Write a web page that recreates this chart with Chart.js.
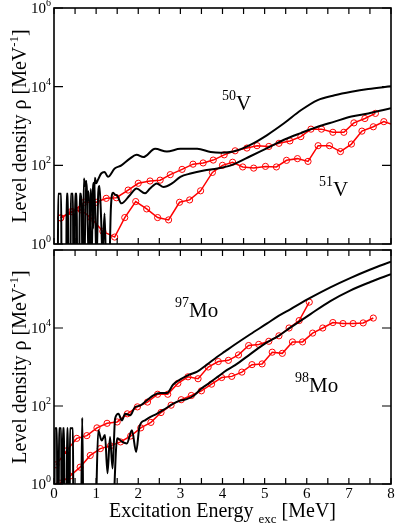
<!DOCTYPE html>
<html>
<head>
<meta charset="utf-8">
<script src="https://cdn.jsdelivr.net/npm/chart.js@4.4.0/dist/chart.umd.min.js"></script>
<style>
html, body { margin: 0; padding: 0; background: #fff; }
#wrap { position: relative; width: 395px; height: 527px; }
canvas { position: absolute; left: 0; }
#top { top: 0; }
#bottom { top: 240px; }
</style>
</head>
<body>
<div id="wrap">
  <canvas id="top" width="395" height="250"></canvas>
  <canvas id="bottom" width="395" height="287"></canvas>
</div>
<script>
// ---------- top panel: 50V / 51V ----------
const v50CalcE = [0.09,0.10,0.17,0.18,0.29,0.30,0.33,0.34,0.39,0.40,0.45,0.46,0.49,0.50,0.54,0.55,0.60,0.61,0.64,0.66,0.68,
  0.71,0.74,0.77,0.80,0.83,0.87,0.90,0.93,0.97,1.00,1.04,1.12,1.20,1.28,1.44,1.60,1.80,1.96,2.12,
  2.40,2.68,3.00,3.40,3.72,3.96,4.26,4.66,5.06,5.46,5.86,6.26,6.66,7.06,7.46,8.00];
const v50CalcRho = [0.1,19,19,0.1,0.1,19,19,0.1,0.1,19,19,0.1,0.1,19,19,0.1,0.1,19,19,6,0.1,
  46,30,40,3,0.3,25,8,2.5,48,35,42,62,68,51,83,100,148,186,162,
  263,224,263,263,219,209,224,331,589,1170,2510,4570,6030,7410,8710,10200];

const v51CalcE = [0.72,0.76,0.79,0.82,0.86,0.89,0.92,0.95,0.98,1.01,1.05,1.08,1.12,1.15,1.20,1.24,1.30,1.35,1.40,1.45,1.50,
  1.60,1.80,1.96,2.16,2.28,2.44,2.60,2.80,3.00,3.24,3.56,3.88,4.20,4.34,4.66,5.06,5.46,5.86,6.26,6.66,7.06,7.46,8.00];
const v51CalcRho = [0.1,40,12,22,2,0.2,18,36,5,0.3,20,30,4,0.5,6,0.2,0.1,8,20,18,17,
  10.8,17.4,25.7,19.5,25.7,34.7,28.2,34.7,51,62,74,83,100,115,170,275,447,661,955,1290,1740,2090,2820];

const v50ExpE = [0.16,0.44,0.72,1.00,1.24,1.48,1.76,2.00,2.28,2.52,2.76,3.04,3.30,3.54,3.78,4.04,4.30,4.58,4.82,5.10,
  5.34,5.60,5.86,6.10,6.35,6.62,6.88,7.12,7.38,7.63];
const v50ExpRho = [4.6,6.6,11.5,11.5,14.5,15,23.5,35,40,42,58,79,107,115,136,185,234,275,316,302,
  363,417,537,832,832,692,692,1200,1550,2090];

const v51ExpE = [0.16,0.40,0.64,0.88,1.16,1.44,1.68,1.94,2.20,2.46,2.72,2.98,3.22,3.48,3.76,4.00,4.24,4.48,4.74,5.02,
  5.28,5.52,5.78,6.03,6.27,6.54,6.80,7.06,7.31,7.58,7.83,8.00];
const v51ExpRho = [4.6,6.6,7.4,4.6,2.1,1.5,4.7,12,7.8,4.7,4.1,11.5,13.2,22.5,66,100,120,91,85,94,
  91,134,148,126,316,316,224,347,741,955,1290,1120];

// ---------- bottom panel: 97Mo / 98Mo ----------
const mo97CalcE = [0.01,0.02,0.07,0.08,0.11,0.12,0.17,0.18,0.20,0.21,0.24,0.25,0.30,0.31,0.33,0.34,0.37,0.38,0.45,0.46,
  0.64,0.67,0.70,0.98,1.05,1.13,1.21,1.27,1.33,1.39,1.45,1.53,1.61,1.69,1.81,1.92,2.04,
  2.20,2.36,2.52,2.68,2.83,3.00,3.20,3.40,3.63,3.86,4.06,4.26,4.66,5.05,5.33,5.61,6.08,6.56,7.03,7.51,8.00];
const mo97CalcRho = [0.1,27,27,0.1,0.1,27,27,0.1,0.1,27,27,0.1,0.1,27,27,0.1,0.1,27,27,0.1,
  0.1,50,0.1,0.1,24,13,18,1.9,16,2.5,47,63,43,63,58,93,102,
  138,186,214,214,355,479,630,760,1150,1780,2510,3550,6900,12900,20400,30200,58900,110000,190000,316000,500000];

const mo98CalcE = [1.40,1.50,1.62,1.73,1.85,1.95,2.03,2.16,2.28,2.44,2.64,2.83,3.00,3.15,3.32,3.50,3.70,3.90,4.10,4.30,
  4.66,5.05,5.33,5.61,6.08,6.56,7.03,7.51,8.00];
const mo98CalcRho = [0.1,15,12,11,24,6.6,30,43,52,63,85,115,138,150,186,282,398,575,832,1120,
  2140,4270,6300,10200,22400,49000,91200,151000,240000];

const mo97ExpE = [0.05,0.30,0.54,0.78,1.02,1.26,1.50,1.74,1.98,2.22,2.46,2.70,2.94,3.18,3.42,3.66,3.90,4.14,4.38,4.62,
  4.86,5.10,5.34,5.58,5.82,6.06];
const mo97ExpRho = [3.1,7.1,14.8,17.4,27.5,36,39,63,95,126,200,200,380,560,500,1000,1380,1480,2040,3550,
  3800,4570,6300,10000,15500,46000];

const mo98ExpE = [0.14,0.38,0.62,0.86,1.10,1.34,1.58,1.82,2.06,2.30,2.54,2.78,3.02,3.26,3.50,3.74,3.98,4.22,4.46,4.70,
  4.94,5.18,5.42,5.66,5.90,6.14,6.38,6.62,6.86,7.10,7.34,7.58];
const mo98ExpRho = [1.05,1.6,2.7,5.4,8.1,9.5,12,17,27.5,38,68,105,145,186,245,363,537,575,740,1150,
  1200,2400,2240,4400,4400,7400,10000,13800,13000,13000,13500,18000];

const xTicks = [0,0.5,1,1.5,2,2.5,3,3.5,4,4.5,5,5.5,6,6.5,7,7.5,8];
const xTickLabels = ['0','1','2','3','4','5','6','7','8'];
const yTickExps = [0,2,4,6];

const serif = '"Liberation Serif", "Times New Roman", serif';

const pts = (xs, ys) => xs.map((x, i) => ({ x: x, y: ys[i] }));

const calc = (xs, ys) => ({
  data: pts(xs, ys),
  borderColor: '#000',
  borderWidth: 2,
  pointRadius: 0,
  cubicInterpolationMode: 'monotone',
  fill: false
});

const expt = (xs, ys) => ({
  data: pts(xs, ys),
  borderColor: '#ff0000',
  borderWidth: 1.5,
  pointRadius: c => (xs[c.dataIndex] >= 8 ? 0 : 3.1),
  pointBorderColor: '#ff0000',
  pointBackgroundColor: 'rgba(255,255,255,0)',
  pointBorderWidth: 1,
  tension: 0,
  fill: false
});

// superscript / subscript helper: parts = [[text, size, dy], ...]
function richText(ctx, parts, x, y) {
  let cx = x;
  parts.forEach(p => {
    ctx.font = p[1] + 'px ' + serif;
    ctx.fillText(p[0], cx, y + p[2]);
    cx += ctx.measureText(p[0]).width;
  });
}
function richWidth(ctx, parts) {
  let w = 0;
  parts.forEach(p => { ctx.font = p[1] + 'px ' + serif; w += ctx.measureText(p[0]).width; });
  return w;
}

const framePlugin = {
  id: 'frame',
  afterDatasetsDraw(chart, args, opts) {
    const ctx = chart.ctx;
    const { left, right, top, bottom } = chart.chartArea;
    const xs = chart.scales.x, ys = chart.scales.y;
    ctx.save();
    ctx.strokeStyle = '#000';
    ctx.fillStyle = '#000';
    ctx.lineWidth = 1.2;
    ctx.beginPath();
    xTicks.forEach(v => {
      const px = xs.getPixelForValue(v);
      ctx.moveTo(px, bottom); ctx.lineTo(px, bottom - 6);
      ctx.moveTo(px, top); ctx.lineTo(px, top + 6);
    });
    yTickExps.forEach(e => {
      const py = ys.getPixelForValue(Math.pow(10, e));
      ctx.moveTo(left, py); ctx.lineTo(left + 9, py);
      ctx.moveTo(right, py); ctx.lineTo(right - 9, py);
    });
    ctx.stroke();
    ctx.lineWidth = 1.6;
    ctx.strokeRect(left, top, right - left, bottom - top);

    // y tick labels
    ctx.textAlign = 'left';
    ctx.textBaseline = 'alphabetic';
    opts.yLabels.forEach(e => {
      const py = ys.getPixelForValue(Math.pow(10, e));
      const parts = [['10', 15, 5], [String(e), 10, -2]];
      richText(ctx, parts, left - 3 - richWidth(ctx, parts), py);
    });

    // x tick labels
    if (opts.xLabels) {
      ctx.font = '15px ' + serif;
      ctx.textAlign = 'center';
      xTickLabels.forEach((t, i) => {
        ctx.fillText(t, xs.getPixelForValue(i), bottom + 14);
      });
      ctx.textAlign = 'left';
      const xt = [['Excitation Energy ', 20, 0], ['exc', 13, 6], [' [MeV]', 20, 0]];
      richText(ctx, xt, (left + right) / 2 - richWidth(ctx, xt) / 2, bottom + 33);
    }

    // y title
    const yt = [['Level density \u03c1 [MeV', 20, 0], ['-1', 13, -8], [']', 20, 0]];
    ctx.save();
    ctx.translate(26, (top + bottom) / 2);
    ctx.rotate(-Math.PI / 2);
    richText(ctx, yt, -richWidth(ctx, yt) / 2, 0);
    ctx.restore();

    // nucleus labels
    opts.notes.forEach(n => {
      richText(ctx, [[n[0], 14, -10], [n[1], 21, 0]], n[2], n[3]);
    });
    ctx.restore();
  }
};

function buildPanel(id, sets, pad, extra) {
  return new Chart(document.getElementById(id), {
    type: 'line',
    data: { datasets: sets },
    options: {
      responsive: false,
      animation: false,
      devicePixelRatio: 1,
      layout: { padding: pad, autoPadding: false },
      plugins: { legend: { display: false }, tooltip: { enabled: false }, frame: extra },
      scales: {
        x: { type: 'linear', min: 0, max: 8, display: false },
        y: { type: 'logarithmic', min: 1, max: 1e6, display: false }
      }
    },
    plugins: [framePlugin]
  });
}

buildPanel('top', [
  calc(v50CalcE, v50CalcRho),
  calc(v51CalcE, v51CalcRho),
  expt(v50ExpE, v50ExpRho),
  expt(v51ExpE, v51ExpRho)
], { left: 54, right: 4, top: 8, bottom: 6 }, {
  yLabels: [0, 2, 4, 6],
  xLabels: false,
  notes: [['50', 'V', 222, 110], ['51', 'V', 319, 196]]
});

buildPanel('bottom', [
  calc(mo97CalcE, mo97CalcRho),
  calc(mo98CalcE, mo98CalcRho),
  expt(mo97ExpE, mo97ExpRho),
  expt(mo98ExpE, mo98ExpRho)
], { left: 54, right: 4, top: 10, bottom: 43 }, {
  yLabels: [0, 2, 4],
  xLabels: true,
  notes: [['97', 'Mo', 175, 77], ['98', 'Mo', 295, 152]]
});
</script>
</body>
</html>
